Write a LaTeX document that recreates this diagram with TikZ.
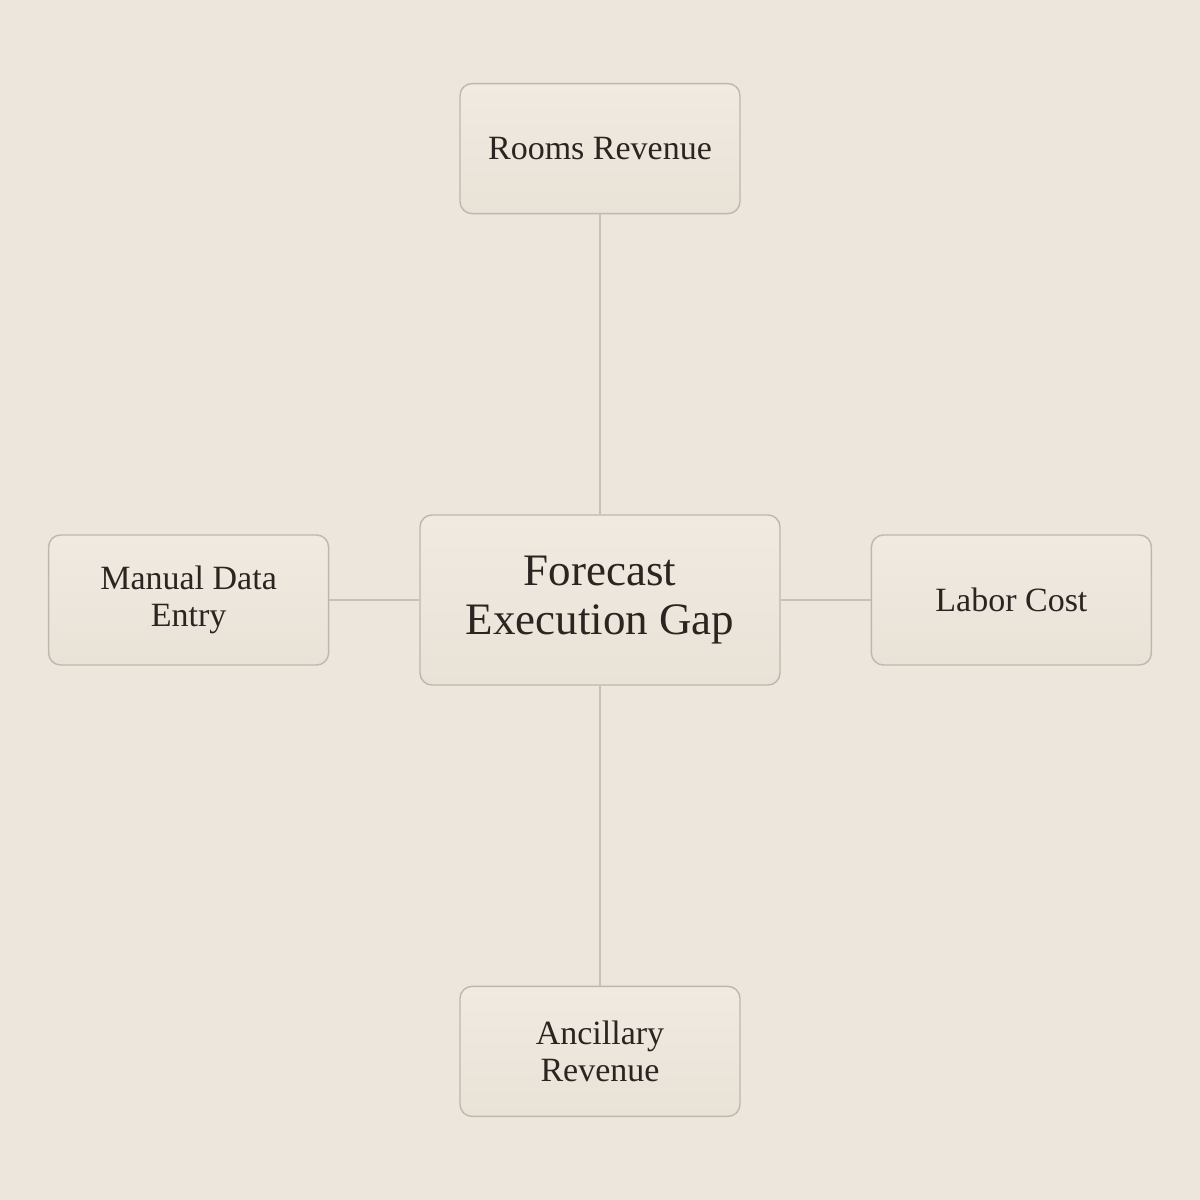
\documentclass[tikz,border=0pt]{standalone}
\usepackage{fontspec}
\setmainfont{Liberation Serif}
\usetikzlibrary{positioning}

\definecolor{paper}{HTML}{EDE6DC}
\definecolor{boxtop}{HTML}{F0EAE1}
\definecolor{boxbot}{HTML}{E9E2D7}
\definecolor{boxline}{HTML}{BFB7AD}
\definecolor{wire}{HTML}{C9C1B7}
\definecolor{ink}{HTML}{2A2520}

\tikzset{
	box/.style={draw=boxline, line width=0.7pt, rounded corners=6pt,
		top color=boxtop, bottom color=boxbot, text=ink, align=center,
		minimum width=140pt, minimum height=65pt, inner sep=0pt,
		font=\fontsize{17}{18.5}\selectfont},
	hub/.style={box, minimum width=180pt, minimum height=85pt,
		font=\fontsize{22.5}{24.5}\selectfont},
	link/.style={draw=wire, line width=0.6pt}
}

\begin{document}
\begin{tikzpicture}
		\fill[paper] (-300pt,-300pt) rectangle (300pt,300pt);
		\useasboundingbox (-300pt,-300pt) rectangle (300pt,300pt);

		\node[hub]										(gap)		{Forecast\\Execution Gap};
		\node[box,node distance=150pt,above=of gap]		(rooms)		{Rooms Revenue};
		\node[box,node distance=150pt,below=of gap]		(ancil)		{Ancillary\\Revenue};
		\node[box,node distance=45pt,left=of gap]		(manual)	{Manual Data\\Entry};
		\node[box,node distance=45pt,right=of gap]		(labor)		{Labor Cost};

		\draw[link]	(gap)	--	(rooms);
		\draw[link]	(gap)	--	(ancil);
		\draw[link]	(gap)	--	(manual);
		\draw[link]	(gap)	--	(labor);
	\end{tikzpicture}
\end{document}
